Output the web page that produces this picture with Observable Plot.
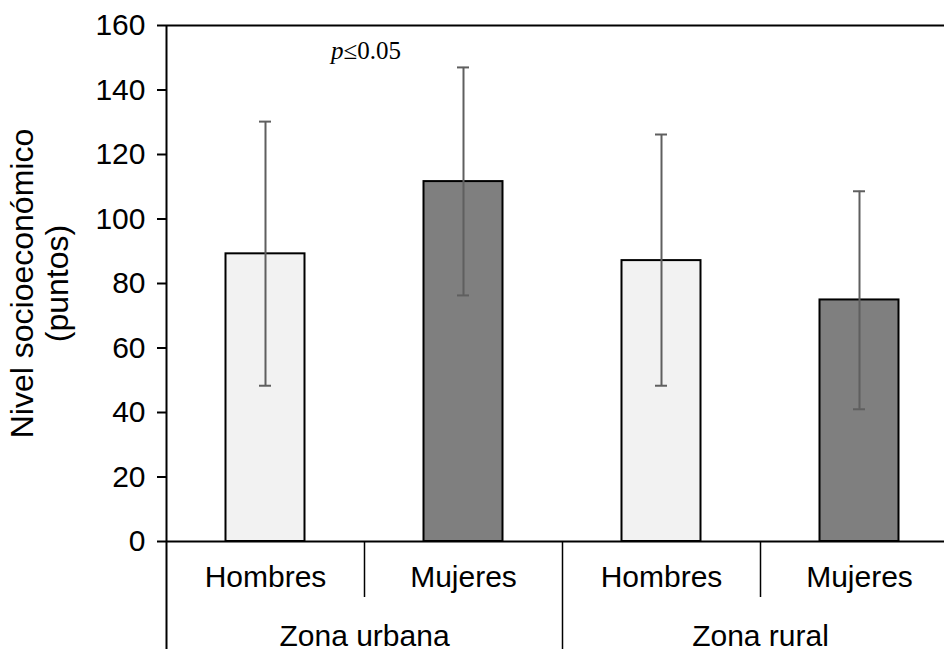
<!DOCTYPE html>
<html>
<head>
<meta charset="utf-8">
<script src="https://cdn.jsdelivr.net/npm/d3@7"></script>
<script src="https://cdn.jsdelivr.net/npm/@observablehq/plot@0.6"></script>
<style>
  html, body { margin: 0; padding: 0; background: #fff; overflow: hidden; }
  #chart { width: 944px; height: 649px; }
</style>
</head>
<body>
<div id="chart"></div>
<script>
// Data
const zones = ["Zona urbana", "Zona rural"];
const sexes = ["Hombres", "Mujeres", "Hombres", "Mujeres"];
const barZones = ["Zona urbana", "Zona urbana", "Zona rural", "Zona rural"];
const means = [89.2, 111.6, 87.1, 74.9];
const lower = [48.3, 76.3, 48.3, 41.0];
const upper = [130.2, 147.0, 126.2, 108.6];
const yTicks = [0, 20, 40, 60, 80, 100, 120, 140, 160];
const yLabel = "Nivel socioeconómico\n(puntos)";
const sigItalic = "p";
const sigText = "≤0.05";

const data = sexes.map((s, i) => ({
  i, sex: s, zone: barZones[i], mean: means[i], lo: lower[i], hi: upper[i]
}));

const sans = "'Liberation Sans', Arial, Helvetica, sans-serif";
const serif = "'Liberation Serif', 'Times New Roman', serif";

const chart = Plot.plot({
  width: 944,
  height: 649,
  marginLeft: 166,
  marginRight: 0,
  marginTop: 25,
  marginBottom: 108,
  style: { fontFamily: sans, color: "#000", background: "#fff", overflow: "visible" },
  x: { type: "linear", domain: [0, 4], range: [166, 958], label: null },
  y: { domain: [0, 160], label: null },
  color: { domain: ["Hombres", "Mujeres"], range: ["#f2f2f2", "#7f7f7f"] },
  marks: [
    Plot.rectY(data, {
      x1: d => d.i, x2: d => d.i + 1, y1: 0, y2: "mean",
      insetLeft: 59.5, insetRight: 59.5,
      fill: "sex", stroke: "#000", strokeWidth: 2
    }),
    Plot.ruleX(data, { x: d => d.i + 0.5, y1: "lo", y2: "hi", stroke: "#5f5f5f", strokeWidth: 2 }),
    Plot.ruleY(data, { y: "hi", x1: d => d.i + 0.5, x2: d => d.i + 0.5, insetLeft: -6, insetRight: -6, stroke: "#5f5f5f", strokeWidth: 2 }),
    Plot.ruleY(data, { y: "lo", x1: d => d.i + 0.5, x2: d => d.i + 0.5, insetLeft: -6, insetRight: -6, stroke: "#5f5f5f", strokeWidth: 2 }),
    // frame lines
    Plot.ruleY([0, 160], { stroke: "#000", strokeWidth: 2 }),
    Plot.ruleX([0], { y1: 160, y2: 0, insetBottom: -108, stroke: "#000", strokeWidth: 2 }),
    Plot.ruleX([2], { y1: 0, y2: 0, insetBottom: -108, stroke: "#000", strokeWidth: 1.5 }),
    Plot.ruleX([1, 3], { y1: 0, y2: 0, insetBottom: -56, stroke: "#000", strokeWidth: 1.5 }),
    // axes
    Plot.axisY({ ticks: yTicks, tickSize: 9, tickPadding: 12, fontSize: 30, label: null, strokeWidth: 2, stroke: "#000" }),
    Plot.axisX({ ticks: [0.5, 1.5, 2.5, 3.5], tickFormat: d => sexes[Math.floor(d)], tickSize: 0, tickPadding: 24, fontSize: 30, label: null }),
    Plot.axisX({ ticks: [1, 3], tickFormat: d => zones[Math.floor(d / 2)], tickSize: 0, tickPadding: 83, fontSize: 30, label: null }),
    // y label
    Plot.text([yLabel], { frameAnchor: "left", rotate: -90, dx: -127, fontSize: 32, lineHeight: 1.1, textAnchor: "middle", lineAnchor: "middle", fill: "#000" }),
    // significance
    Plot.text([{ x: 1, t: sigItalic }], { x: "x", text: "t", frameAnchor: "top", lineAnchor: "bottom", dy: 33, dx: -21, textAnchor: "end", fontFamily: serif, fontStyle: "italic", fontSize: 25, fill: "#000" }),
    Plot.text([{ x: 1, t: sigText }], { x: "x", text: "t", frameAnchor: "top", lineAnchor: "bottom", dy: 33, dx: -21, textAnchor: "start", fontFamily: serif, fontSize: 25, fill: "#000" })
  ]
});
document.getElementById("chart").appendChild(chart);
</script>
</body>
</html>
